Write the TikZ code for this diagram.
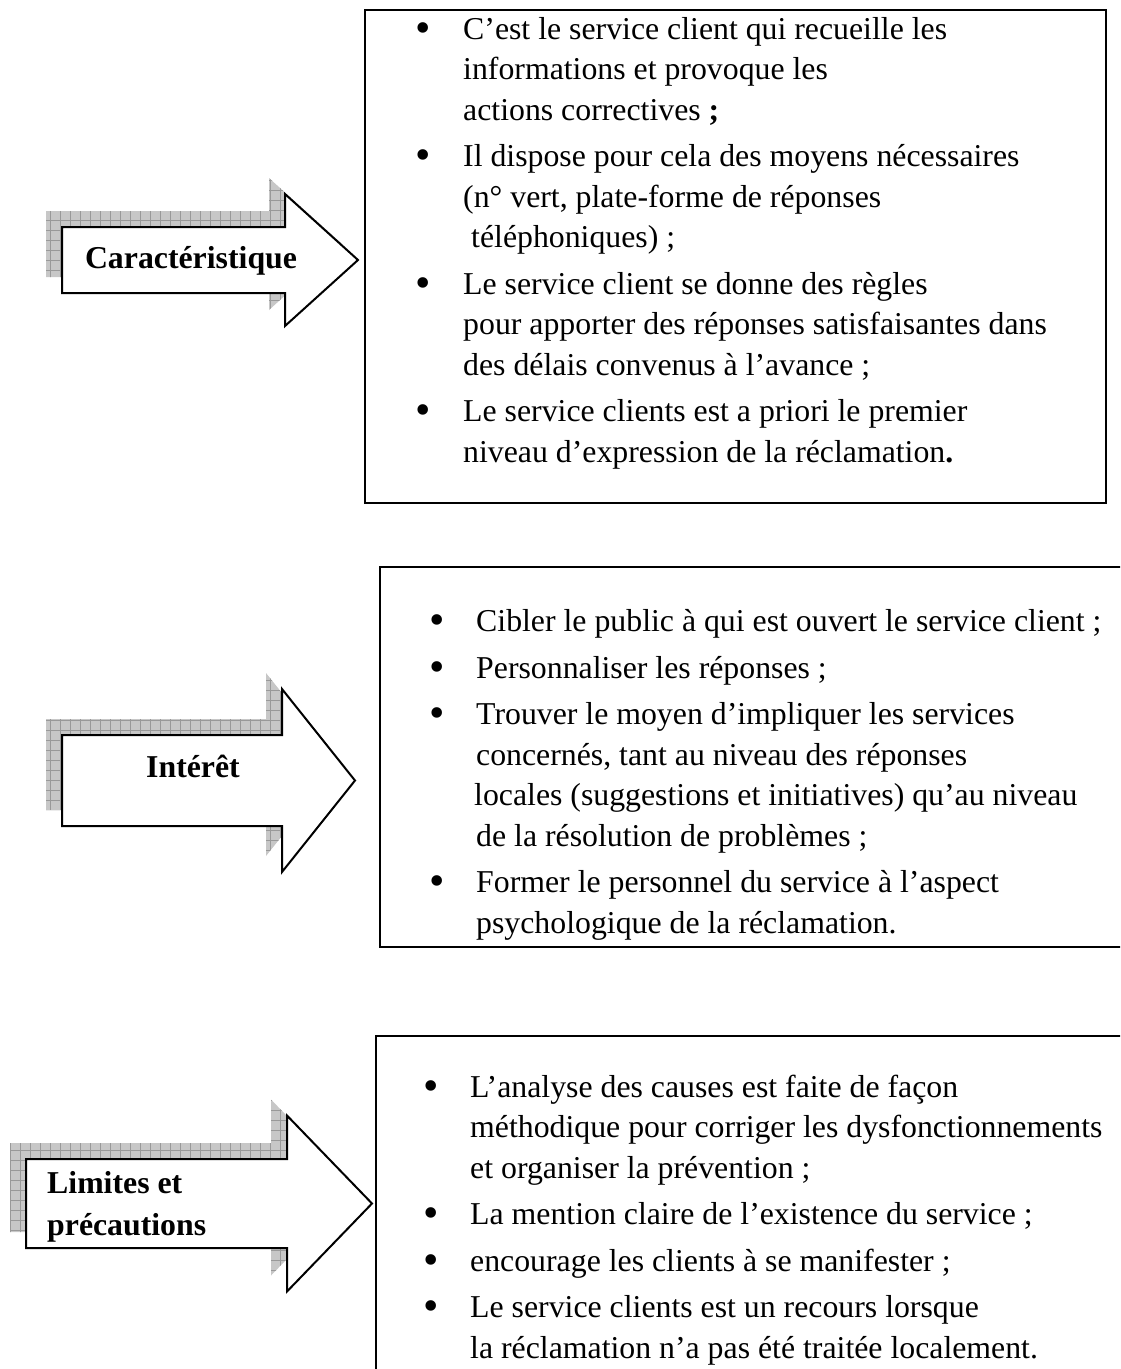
\documentclass[tikz,border=0pt]{standalone}
\usepackage{fontspec}
\setmainfont{Liberation Serif}
\begin{document}
\begin{tikzpicture}[x=1pt,y=-1pt,
  frame/.style={draw=black, line width=2pt},
  arrowbody/.style={draw=black, fill=white, line width=2pt, line join=miter},
  shadowfill/.style={fill=black!22},
  shadowgrid/.style={draw=black!40, line width=0.7pt},
  % block arrow: left x, centre y, shaft half-height, head base x, head half-height, tip x
  arrowpath/.style n args={6}{insert path={
    (#1,{#2-#3}) -- (#4,{#2-#3}) -- (#4,{#2-#5}) -- (#6,#2) --
    (#4,{#2+#5}) -- (#4,{#2+#3}) -- (#1,{#2+#3}) -- cycle}},
  ln/.style={anchor=base west, inner sep=0pt, font=\fontsize{31.8}{40}\selectfont},
  bul/.style={anchor=base, inner sep=0pt, yshift=-3pt, font=\fontsize{44}{40}\selectfont},
  tag/.style={anchor=base, inner sep=0pt, font=\fontsize{31.8}{40}\selectfont\bfseries}]
\useasboundingbox (0,0) rectangle (1120,1369);
\clip (0,0) rectangle (1120,1369);

% ---------- block arrows with hatched drop shadow ----------
\begin{scope}
  \clip[shift={(-16,-16)}, arrowpath={62}{260}{33}{285}{66}{358}];
  \fill[shadowfill] (0,100) rectangle (420,400);
  \draw[shadowgrid] (0,100) grid[step=10pt] (420,400);
\end{scope}
\draw[arrowbody, arrowpath={62}{260}{33}{285}{66}{358}];

\begin{scope}
  \clip[shift={(-16,-16)}, arrowpath={62}{780.5}{45.5}{282}{91.5}{355}];
  \fill[shadowfill] (0,600) rectangle (420,960);
  \draw[shadowgrid] (0,600) grid[step=10pt] (420,960);
\end{scope}
\draw[arrowbody, arrowpath={62}{780.5}{45.5}{282}{91.5}{355}];

\begin{scope}
  \clip[shift={(-16,-16)}, arrowpath={26}{1203.5}{44.5}{287}{88}{372}];
  \fill[shadowfill] (0,1050) rectangle (420,1369);
  \draw[shadowgrid] (0,1050) grid[step=10pt] (420,1369);
\end{scope}
\draw[arrowbody, arrowpath={26}{1203.5}{44.5}{287}{88}{372}];

\node[tag] (car) at (191,268) {Caractéristique};
\node[tag] (int) at (193,777) {Intérêt};
\node[tag, anchor=base west] (lim1) at (47,1193) {Limites et};
\node[tag, anchor=base west] (lim2) at (47,1235) {précautions};

% ---------- text frames ----------
\draw[frame] (365,10) rectangle (1106,503);
\draw[frame] (1130,567) -- (380,567) -- (380,947) -- (1130,947);
\draw[frame] (376,1036) rectangle (1130,1380);

% ---------- Caractéristique ----------
\node[bul] (a1) at (423,39) {•};
\node[ln] (a1t) at (463,39) {C’est le service client qui recueille les};
\node[ln] (a1u) at (463,79.5) {informations et provoque les};
\node[ln] (a1v) at (463,120) {actions correctives \textbf{;}};
\node[bul] (a2) at (423,166.5) {•};
\node[ln] (a2t) at (463,166.5) {Il dispose pour cela des moyens nécessaires};
\node[ln] (a2u) at (463,207) {(n° vert, plate-forme de réponses};
\node[ln] (a2v) at (471,247.5) {téléphoniques) ;};
\node[bul] (a3) at (423,294) {•};
\node[ln] (a3t) at (463,294) {Le service client se donne des règles};
\node[ln] (a3u) at (463,334.5) {pour apporter des réponses satisfaisantes dans};
\node[ln] (a3v) at (463,375) {des délais convenus à l’avance ;};
\node[bul] (a4) at (423,421.5) {•};
\node[ln] (a4t) at (463,421.5) {Le service clients est a priori le premier};
\node[ln] (a4u) at (463,462) {niveau d’expression de la réclamation\textbf{.}};

% ---------- Intérêt ----------
\node[bul] (b1) at (437,631.5) {•};
\node[ln] (b1t) at (476,631.5) {Cibler le public à qui est ouvert le service client ;};
\node[bul] (b2) at (437,678) {•};
\node[ln] (b2t) at (476,678) {Personnaliser les réponses ;};
\node[bul] (b3) at (437,724.5) {•};
\node[ln] (b3t) at (476,724.5) {Trouver le moyen d’impliquer les services};
\node[ln] (b3u) at (476,765) {concernés, tant au niveau des réponses};
\node[ln] (b3v) at (474,805.5) {locales (suggestions et initiatives) qu’au niveau};
\node[ln] (b3w) at (476,846) {de la résolution de problèmes ;};
\node[bul] (b4) at (437,892.5) {•};
\node[ln] (b4t) at (476,892.5) {Former le personnel du service à l’aspect};
\node[ln] (b4u) at (476,933) {psychologique de la réclamation.};

% ---------- Limites et précautions ----------
\node[bul] (c1) at (431,1097) {•};
\node[ln] (c1t) at (470,1097) {L’analyse des causes est faite de façon};
\node[ln] (c1u) at (470,1137.5) {méthodique pour corriger les dysfonctionnements};
\node[ln] (c1v) at (470,1178) {et organiser la prévention ;};
\node[bul] (c2) at (431,1224.5) {•};
\node[ln] (c2t) at (470,1224.5) {La mention claire de l’existence du service ;};
\node[bul] (c3) at (431,1271) {•};
\node[ln] (c3t) at (470,1271) {encourage les clients à se manifester ;};
\node[bul] (c4) at (431,1317.5) {•};
\node[ln] (c4t) at (470,1317.5) {Le service clients est un recours lorsque};
\node[ln] (c4u) at (470,1358) {la réclamation n’a pas été traitée localement.};
\end{tikzpicture}
\end{document}
